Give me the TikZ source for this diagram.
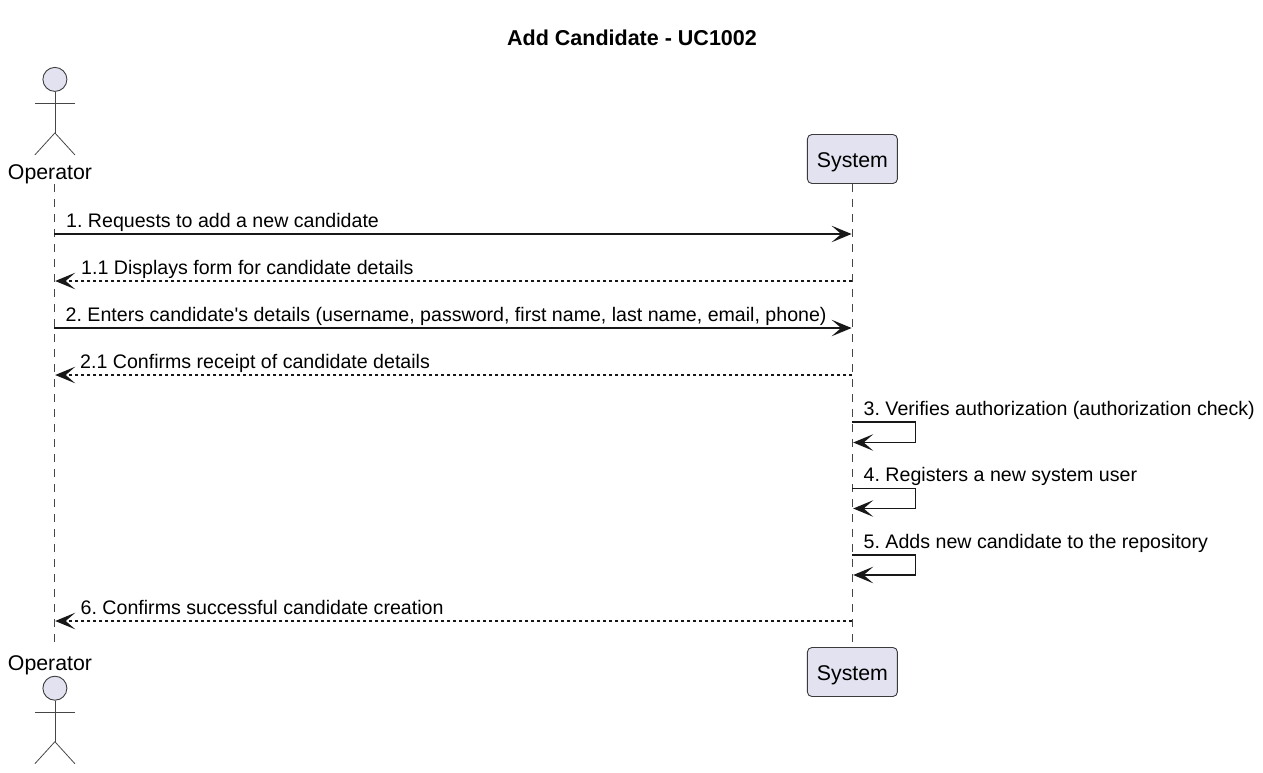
\documentclass[tikz,border=0pt]{standalone}
\usepackage{fontspec}
\setmainfont{Liberation Sans}
\frenchspacing
\usetikzlibrary{arrows.meta}
\newcommand{\msgfont}{\fontsize{19.6}{22}\selectfont}
\newcommand{\actfont}{\fontsize{21.3}{24}\selectfont}
\definecolor{pfill}{HTML}{E2E2F0}
\definecolor{pline}{HTML}{181818}
\tikzset{
  x=1pt,y=-1pt,
  lifeline/.style={draw=pline!80,line width=0.9pt,dash pattern=on 7.5pt off 7.5pt},
  head/.style={-{Stealth[length=20pt,width=16.5pt,inset=9.5pt]},shorten >=0.8pt},
  callmsg/.style={draw=pline,line width=1.5pt,head},
  retmsg/.style={draw=pline,line width=1.3pt,dash pattern=on 3pt off 3pt,head},
  msglabel/.style={anchor=base west,inner sep=0pt,font=\msgfont,text=black},
  actlabel/.style={anchor=base,inner sep=0pt,font=\actfont,text=black},
  participant/.style={draw=pline!85,fill=pfill,line width=0.9pt,rounded corners=4.5pt,minimum width=90pt,minimum height=49pt,inner sep=0pt,font=\actfont,text=black},
  actorhead/.style={circle,draw=pline!85,fill=pfill,line width=0.9pt,minimum size=24pt,inner sep=0pt},
  actorline/.style={draw=pline!80,line width=0.8pt},
  titletext/.style={inner sep=0pt,font=\fontsize{21.5}{24}\selectfont\bfseries,text=black},
  pics/actor/.style={code={
    \node[actorhead] (#1) at (0,0) {};
    \draw[actorline] (#1.south) -- (0,53.5);
    \draw[actorline] (-20,23.7) -- (20,23.7);
    \draw[actorline] (-20,75.5) -- (0,53.5) -- (20,75.5);
  }}
}
\begin{document}
\begin{tikzpicture}
\useasboundingbox (0,0) rectangle (1263,772);
\fill[white] (0,0) rectangle (1263,772);

\node[titletext] (title) at (632,38) {Add Candidate - UC1002};

% lifelines
\coordinate (optop) at (54.4,184);
\coordinate (opbot) at (54.4,642);
\coordinate (systop) at (852.4,184);
\coordinate (sysbot) at (852.4,647);
\draw[lifeline] (optop) -- (opbot);
\draw[lifeline] (systop) -- (sysbot);

% participants
\pic at (54.9,79.4) {actor=actorTop};
\node[actlabel] (opTopLabel) at (50,179.5) {Operator};
\node[participant] (sysTopBox) at (852.4,159) {\raisebox{-8.8pt}[0pt][0pt]{System}};
\node[actlabel] (opBotLabel) at (50,670) {Operator};
\pic at (54.9,688.2) {actor=actorBot};
\node[participant] (sysBotBox) at (852.4,672) {\raisebox{-8.8pt}[0pt][0pt]{System}};

% messages
\foreach \n/\y in {m1/234,m2/281,m3/328,m4/375,m9/621}{
  \coordinate (\n o) at (54.4,\y);
  \coordinate (\n s) at (852.4,\y);
}
\draw[callmsg] (m1o) -- (m1s);
\draw[retmsg] (m2s) -- (m2o);
\draw[callmsg] (m3o) -- (m3s);
\draw[retmsg] (m4s) -- (m4o);
\draw[retmsg] (m9s) -- (m9o);

\foreach \n/\a/\b in {m5/422/442.5,m6/488.5/508.5,m7/555/575}{
  \coordinate (\n a) at (852.4,\a);
  \coordinate (\n b) at (852.4,\b);
  \coordinate (\n c) at (915.6,\a);
  \coordinate (\n d) at (915.6,\b);
  \draw[callmsg] (\n a) -- (\n c) -- (\n d) -- (\n b);
}

\node[msglabel] (t1) at (66,227.5) {1. Requests to add a new candidate};
\node[msglabel] (t2) at (81,274.5) {1.1 Displays form for candidate details};
\node[msglabel] (t3) at (65.5,321.5) {2. Enters candidate\textquotesingle s details (username, password, first name, last name, email, phone)};
\node[msglabel] (t4) at (80,368.5) {2.1 Confirms receipt of candidate details};
\node[msglabel] (t5) at (863.5,415) {3. Verifies authorization (authorization check)};
\node[msglabel] (t6) at (863.5,481.5) {4. Registers a new system user};
\node[msglabel] (t7) at (863.5,548) {5. Adds new candidate to the repository};
\node[msglabel] (t8) at (80.5,614.5) {6. Confirms successful candidate creation};
\end{tikzpicture}
\end{document}
